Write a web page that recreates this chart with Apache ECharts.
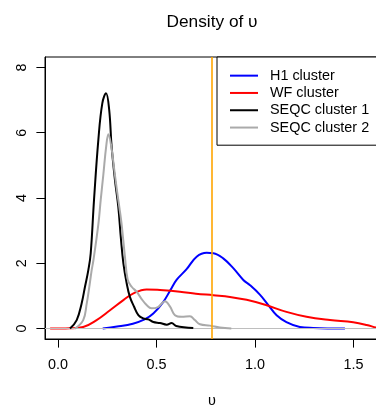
<!DOCTYPE html>
<html>
<head>
<meta charset="utf-8">
<script src="https://cdn.jsdelivr.net/npm/echarts@6/dist/echarts.min.js"></script>
<style>
html,body{margin:0;padding:0;background:#fff;}
#chart{width:376px;height:405px;}
</style>
</head>
<body>
<div id="chart"></div>
<script>
// ---- data ----
const seriesNames = ['H1 cluster', 'WF cluster', 'SEQC cluster 1', 'SEQC cluster 2'];
const seriesColors = ['#0000ff', '#ff0000', '#000000', '#aaaaaa'];

const h1X = [0.227,0.30,0.38,0.44,0.484,0.535,0.57,0.602,0.653,0.704,0.755,0.789,0.839,0.89,0.941,0.975,1.025,1.068,1.11,1.16,1.228,1.296,1.457];
const h1Y = [0.0,0.06,0.15,0.28,0.46,0.82,1.17,1.49,1.82,2.2,2.32,2.31,2.15,1.85,1.49,1.33,1.04,0.72,0.41,0.2,0.05,0.02,0.0];

const wfX = [-0.04,0.06,0.128,0.196,0.264,0.332,0.383,0.45,0.518,0.619,0.70,0.789,0.873,0.958,1.056,1.16,1.262,1.381,1.499,1.567,1.614,1.63];
const wfY = [0.0,0.01,0.05,0.26,0.56,0.87,1.08,1.2,1.18,1.13,1.07,1.02,0.97,0.88,0.72,0.51,0.36,0.26,0.19,0.11,0.03,0.01];

const seqc1X = [0.061,0.095,0.12,0.137,0.154,0.166,0.183,0.205,0.225,0.244,0.26,0.272,0.289,0.306,0.32,0.332,0.349,0.365,0.387,0.408,0.433,0.459,0.484,0.518,0.552,0.577,0.60,0.687];
const seqc1Y = [0.0,0.26,0.77,1.28,1.79,2.3,3.95,5.79,6.9,7.21,6.7,5.6,4.56,3.74,2.72,2.0,1.38,0.97,0.66,0.41,0.31,0.28,0.2,0.17,0.12,0.17,0.08,0.02];

const seqc2X = [0.086,0.128,0.146,0.159,0.171,0.18,0.205,0.217,0.23,0.245,0.256,0.27,0.285,0.30,0.312,0.323,0.34,0.354,0.374,0.399,0.423,0.45,0.475,0.508,0.543,0.569,0.594,0.628,0.67,0.695,0.721,0.772,0.822,0.88];
const seqc2Y = [0.0,0.26,0.77,1.28,1.79,2.1,3.2,3.95,4.7,5.6,5.95,5.6,4.9,4.2,3.7,3.2,2.2,1.5,1.28,1.13,0.92,0.72,0.62,0.66,0.84,0.67,0.41,0.36,0.38,0.26,0.13,0.09,0.03,0.0];

const xTicks = [0, 0.5, 1.0, 1.5];
const yTicks = [0, 2, 4, 6, 8];
const refLineX = 0.7845;  // orange vertical line
const zeroLineY = 0;      // gray baseline

const chartTitle = 'Density of \u03c5';
const xName = '\u03c5';

// ---- build ----
function pairs(xs, ys){ return xs.map((x,i)=>[x, ys[i]]); }
const allX = [h1X, wfX, seqc1X, seqc2X];
const allY = [h1Y, wfY, seqc1Y, seqc2Y];

const FONT = 'Liberation Sans, Arial, Helvetica, sans-serif';

const series = seriesNames.map((name, i) => ({
  name: name,
  type: 'line',
  data: pairs(allX[i], allY[i]),
  showSymbol: false,
  symbol: 'none',
  smooth: 0.4,
  color: seriesColors[i],
  itemStyle: { color: seriesColors[i] },
  lineStyle: { width: 2, color: seriesColors[i] },
  z: 3 + i,
  animation: false
}));

// gray zero line
series[1].markLine = {
  silent: true, symbol: ['none', 'none'], animation: false,
  label: { show: false },
  emphasis: { disabled: true },
  lineStyle: { color: '#bebebe', type: 'solid', width: 1 },
  data: [{ yAxis: zeroLineY }]
};
// orange vertical reference line, drawn on top
series[0].markLine = {
  silent: true, symbol: ['none', 'none'], animation: false,
  z: 20,
  label: { show: false },
  emphasis: { disabled: true },
  lineStyle: { color: '#ffa500', type: 'solid', width: 1.6, opacity: 1 },
  data: [{ xAxis: refLineX }]
};

const chart = echarts.init(document.getElementById('chart'), null, { renderer: 'canvas' });
chart.setOption({
  animation: false,
  backgroundColor: '#ffffff',
  title: {
    text: chartTitle,
    left: 212, top: 14, padding: 0, textAlign: 'center',
    textStyle: { fontFamily: FONT, fontSize: 17.3, fontWeight: 'normal', color: '#000' }
  },
  grid: {
    left: 45, top: 57, right: -3, bottom: 66,
    show: true, borderColor: '#000', borderWidth: 1, backgroundColor: 'transparent',
    containLabel: false,
    outerBoundsMode: 'none'
  },
  legend: {
    data: seriesNames,
    orient: 'vertical',
    left: 217, top: 57,
    padding: [10, 40, 9, 13],
    itemWidth: 28, itemHeight: 2, itemGap: 0,
    icon: 'rect',
    selectedMode: false,
    borderColor: '#000', borderWidth: 1, borderRadius: 0,
    backgroundColor: '#fff',
    textStyle: { fontFamily: FONT, fontSize: 14.4, lineHeight: 17.3, color: '#000', padding: [0, 0, 0, 7] }
  },
  xAxis: {
    type: 'value', min: -0.066, max: 1.63,
    name: xName, nameLocation: 'middle', nameGap: 55,
    nameTextStyle: { fontFamily: FONT, fontSize: 14.4, color: '#000' },
    axisLine: { show: true, onZero: false, lineStyle: { color: '#000', width: 1 } },
    axisTick: { show: true, customValues: xTicks, length: 8.6, inside: false, lineStyle: { color: '#000', width: 1 } },
    axisLabel: { show: true, customValues: xTicks, margin: 19, fontFamily: FONT, fontSize: 14.4, color: '#000',
                 formatter: v => Number(v).toFixed(1), showMinLabel: true, showMaxLabel: true },
    splitLine: { show: false }
  },
  yAxis: {
    type: 'value', min: -0.32, max: 8.32,
    axisLine: { show: true, onZero: false, lineStyle: { color: '#000', width: 1 } },
    axisTick: { show: true, customValues: yTicks, length: 8.6, inside: false, lineStyle: { color: '#000', width: 1 } },
    axisLabel: { show: true, customValues: yTicks, margin: 16, rotate: 90, fontFamily: FONT, fontSize: 14.4, color: '#000',
                 formatter: v => String(Math.round(v)) },
    splitLine: { show: false }
  },
  series: series
});
</script>
</body>
</html>
